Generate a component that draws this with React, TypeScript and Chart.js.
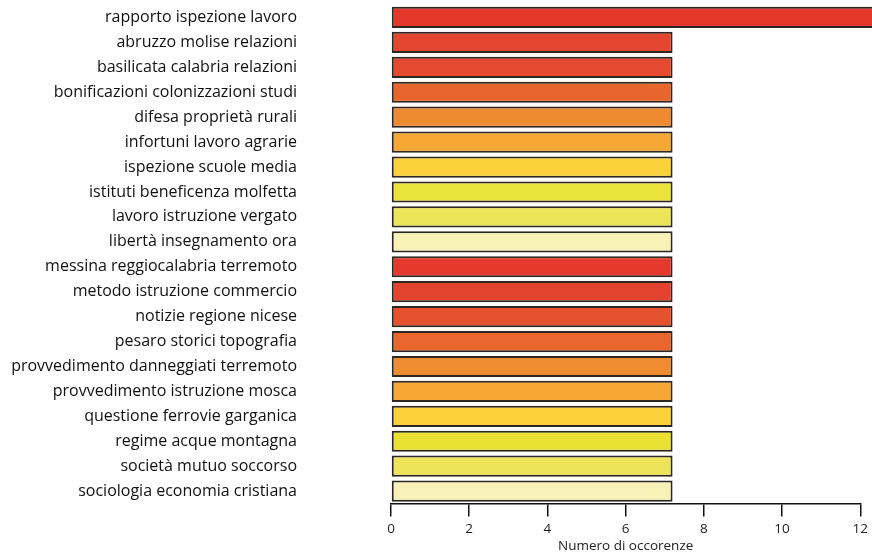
import React, { useEffect, useRef } from "react";
import { Chart, registerables } from "chart.js";

Chart.register(...registerables);

const categories: string[] = [
  "rapporto ispezione lavoro",
  "abruzzo molise relazioni",
  "basilicata calabria relazioni",
  "bonificazioni colonizzazioni studi",
  "difesa proprietà rurali",
  "infortuni lavoro agrarie",
  "ispezione scuole media",
  "istituti beneficenza molfetta",
  "lavoro istruzione vergato",
  "libertà insegnamento ora",
  "messina reggiocalabria terremoto",
  "metodo istruzione commercio",
  "notizie regione nicese",
  "pesaro storici topografia",
  "provvedimento danneggiati terremoto",
  "provvedimento istruzione mosca",
  "questione ferrovie garganica",
  "regime acque montagna",
  "società mutuo soccorso",
  "sociologia economia cristiana",
];

const values: number[] = [
  12.4, 7.2, 7.2, 7.2, 7.2, 7.2, 7.2, 7.2, 7.2, 7.2,
  7.2, 7.2, 7.2, 7.2, 7.2, 7.2, 7.2, 7.2, 7.2, 7.2,
];

const barColors: string[] = [
  "#e5382c",
  "#e4462f",
  "#e5492f",
  "#e8652c",
  "#ee8a30",
  "#f4a833",
  "#fbd23a",
  "#e9e33a",
  "#ede558",
  "#f8f2b6",
  "#e5392d",
  "#e4432f",
  "#e6512e",
  "#e9672c",
  "#ef8b30",
  "#f5a833",
  "#fcd13a",
  "#e9e233",
  "#ede45a",
  "#f8f2b8",
];

const xTicks: number[] = [0, 2, 4, 6, 8, 10, 12];
const xTitle = "Numero di occorenze";

export default function App() {
  const ref = useRef<HTMLCanvasElement | null>(null);

  useEffect(() => {
    document.body.style.margin = "0";
    const canvas = ref.current;
    if (!canvas) return;
    const chart = new Chart(canvas, {
      type: "bar",
      data: {
        labels: categories,
        datasets: [
          {
            data: values,
            backgroundColor: barColors,
            borderColor: "#2e2620",
            borderWidth: 2,
            borderSkipped: false,
            barPercentage: 0.85,
            categoryPercentage: 1,
            clip: false as any,
          },
        ],
      },
      options: {
        indexAxis: "y",
        responsive: false,
        animation: false,
        layout: { padding: { top: 5, right: 10, bottom: 1, left: 0 } },
        plugins: { legend: { display: false }, tooltip: { enabled: false } },
        scales: {
          y: {
            grid: { display: false, drawTicks: true, tickLength: 94 },
            border: { display: false },
            ticks: {
              color: "#111",
              padding: 0,
              font: { family: "'Open Sans', sans-serif", size: 16 },
            },
            afterFit: (scale: any) => {
              scale.width = 391;
              scale.paddingTop = 0;
              scale.paddingBottom = 0;
            },
          },
          x: {
            min: 0,
            max: 12,
            afterBuildTicks: (scale: any) => {
              scale.ticks = xTicks.map((v) => ({ value: v }));
            },
            grid: {
              display: true,
              drawOnChartArea: false,
              drawTicks: true,
              tickLength: 13,
              color: "#111",
              lineWidth: 1.5,
            },
            border: { display: true, color: "#111", width: 1.5 },
            ticks: {
              color: "#222",
              padding: 4,
              maxRotation: 0,
              font: { family: "'Open Sans', sans-serif", size: 13.5 },
            },
            title: {
              display: true,
              text: xTitle,
              color: "#222",
              padding: { top: -3, bottom: 0 },
              font: { family: "'Open Sans', sans-serif", size: 13.5 },
            },
          },
        },
      },
    });
    return () => chart.destroy();
  }, []);

  return <canvas ref={ref} width={872} height={555} />;
}
